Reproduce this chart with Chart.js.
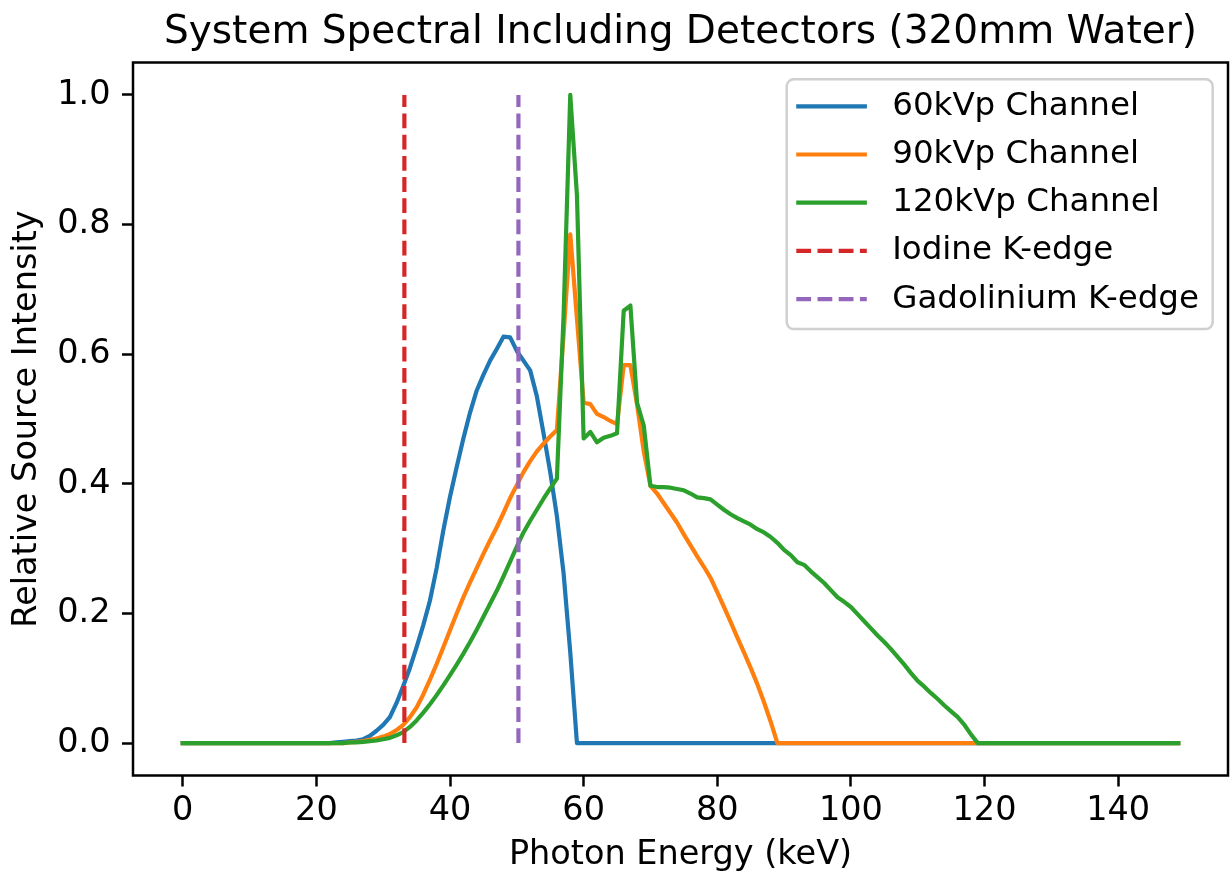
<!DOCTYPE html>
<html><head><meta charset="utf-8">
<script src="https://cdn.jsdelivr.net/npm/chart.js@4.4.0/dist/chart.umd.min.js"></script>
<style>html,body{margin:0;padding:0;background:#fff;overflow:hidden}#wrap{width:1231px;height:878px}canvas{display:block}</style>
</head><body><div id="wrap"><canvas id="c" width="1231" height="878"></canvas></div>
<script>
// ---- data ----
const energyKeV = [0,1,2,3,4,5,6,7,8,9,10,11,12,13,14,15,16,17,18,19,20,21,22,23,24,25,26,27,28,29,30,31,32,33,34,35,36,37,38,39,40,41,42,43,44,45,46,47,48,49,50,51,52,53,54,55,56,57,58,59,60,61,62,63,64,65,66,67,68,69,70,71,72,73,74,75,76,77,78,79,80,81,82,83,84,85,86,87,88,89,90,91,92,93,94,95,96,97,98,99,100,101,102,103,104,105,106,107,108,109,110,111,112,113,114,115,116,117,118,119,120,121,122,123,124,125,126,127,128,129,130,131,132,133,134,135,136,137,138,139,140,141,142,143,144,145,146,147,148,149];
const ch60 = [0,0,0,0,0,0,0,0,0,0,0,0,0,0,0,0,0,0,0,0,0,0,0,0.001,0.002,0.003,0.004,0.006,0.011,0.019,0.028,0.04,0.062,0.088,0.116,0.148,0.182,0.22,0.27,0.328,0.38,0.426,0.47,0.51,0.544,0.568,0.59,0.608,0.627,0.626,0.605,0.59,0.575,0.535,0.478,0.418,0.35,0.262,0.14,0,0,0,0,0,0,0,0,0,0,0,0,0,0,0,0,0,0,0,0,0,0,0,0,0,0,0,0,0,0,0,0,0,0,0,0,0,0,0,0,0,0,0,0,0,0,0,0,0,0,0,0,0,0,0,0,0,0,0,0,0,0,0,0,0,0,0,0,0,0,0,0,0,0,0,0,0,0,0,0,0,0,0,0,0,0,0,0,0,0,0,0,0,0,0,0];
const ch90 = [0,0,0,0,0,0,0,0,0,0,0,0,0,0,0,0,0,0,0,0,0,0,0,0,0,0.001,0.002,0.003,0.005,0.007,0.01,0.014,0.02,0.028,0.04,0.055,0.075,0.098,0.122,0.148,0.174,0.2,0.225,0.248,0.27,0.292,0.313,0.333,0.355,0.378,0.398,0.418,0.435,0.45,0.462,0.473,0.483,0.63,0.785,0.655,0.525,0.523,0.508,0.503,0.497,0.492,0.583,0.583,0.522,0.45,0.397,0.385,0.37,0.355,0.34,0.322,0.305,0.288,0.272,0.255,0.233,0.21,0.187,0.163,0.14,0.116,0.091,0.063,0.033,0,0,0,0,0,0,0,0,0,0,0,0,0,0,0,0,0,0,0,0,0,0,0,0,0,0,0,0,0,0,0,0,0,0,0,0,0,0,0,0,0,0,0,0,0,0,0,0,0,0,0,0,0,0,0,0,0,0,0,0,0,0];
const ch120 = [0,0,0,0,0,0,0,0,0,0,0,0,0,0,0,0,0,0,0,0,0,0,0,0,0,0.001,0.001,0.002,0.003,0.004,0.006,0.008,0.012,0.017,0.025,0.035,0.047,0.06,0.074,0.089,0.105,0.121,0.138,0.156,0.175,0.195,0.215,0.235,0.257,0.28,0.303,0.325,0.343,0.36,0.377,0.393,0.408,0.66,1.0,0.845,0.47,0.48,0.464,0.471,0.474,0.478,0.667,0.675,0.525,0.49,0.397,0.395,0.395,0.394,0.392,0.39,0.385,0.379,0.378,0.376,0.368,0.36,0.353,0.347,0.342,0.337,0.33,0.325,0.318,0.309,0.298,0.29,0.279,0.275,0.265,0.256,0.247,0.236,0.225,0.218,0.21,0.199,0.188,0.177,0.166,0.156,0.145,0.133,0.121,0.108,0.096,0.087,0.077,0.068,0.058,0.049,0.04,0.028,0.013,0,0,0,0,0,0,0,0,0,0,0,0,0,0,0,0,0,0,0,0,0,0,0,0,0,0,0,0,0,0,0,0];
const iodineKEdge = 33.17;
const gadoliniumKEdge = 50.24;
const kEdgeSpan = [0, 1];
const xTicks = [0, 20, 40, 60, 80, 100, 120, 140];
const yTicks = [0.0, 0.2, 0.4, 0.6, 0.8, 1.0];
const seriesLabels = ['60kVp Channel', '90kVp Channel', '120kVp Channel', 'Iodine K-edge', 'Gadolinium K-edge'];
const seriesColors = ['#1f77b4', '#ff7f0e', '#2ca02c', '#d62728', '#9467bd'];
const titleText = 'System Spectral Including Detectors (320mm Water)';
const xTitle = 'Photon Energy (keV)';
const yTitle = 'Relative Source Intensity';

// ---- build chart ----
const FONT = 'DejaVu Sans';
const FS = 33.5;
const pts = (ys) => energyKeV.map((e, i) => ({x: e, y: ys[i]}));
const vline = (xv) => kEdgeSpan.map(v => ({x: xv, y: v}));
const LW = 4.2;
const DASH = [14.8, 6.4];

const solid = (i, data) => ({
  label: seriesLabels[i], data, borderColor: seriesColors[i], backgroundColor: seriesColors[i],
  borderWidth: LW, pointRadius: 0, pointHoverRadius: 0, tension: 0, fill: false,
  borderJoinStyle: 'round', borderCapStyle: 'square', order: 5 - i
});
const dashed = (i, data) => ({
  label: seriesLabels[i], data, borderColor: seriesColors[i], backgroundColor: seriesColors[i],
  borderWidth: LW, pointRadius: 0, pointHoverRadius: 0, tension: 0, fill: false,
  borderDash: DASH, borderCapStyle: 'butt', order: 5 - i
});

const frameAndLegend = {
  id: 'frameAndLegend',
  afterDraw(chart) {
    const ctx = chart.ctx, ca = chart.chartArea;
    ctx.save();
    // axes frame
    ctx.strokeStyle = '#000'; ctx.lineWidth = 2.5;
    ctx.strokeRect(ca.left, ca.top, ca.right - ca.left, ca.bottom - ca.top);
    // legend
    ctx.font = '32.5px "' + FONT + '"';
    const items = chart.data.datasets;
    const boxLeft = ca.right - 441.3;
    const boxRight = ca.right - 15.3;
    const boxTop = ca.top + 16.8;
    const handleStart = boxLeft + 9.6;
    const handleEnd = handleStart + 70.5;
    const textLeft = boxLeft + 105.5;
    const rowH = 48.2;
    const firstRow = boxTop + 27;
    const boxBottom = firstRow + rowH * (items.length - 1) + 30;
    const r = 7;
    ctx.beginPath();
    ctx.moveTo(boxLeft + r, boxTop);
    ctx.arcTo(boxRight, boxTop, boxRight, boxBottom, r);
    ctx.arcTo(boxRight, boxBottom, boxLeft, boxBottom, r);
    ctx.arcTo(boxLeft, boxBottom, boxLeft, boxTop, r);
    ctx.arcTo(boxLeft, boxTop, boxRight, boxTop, r);
    ctx.closePath();
    ctx.fillStyle = 'rgba(255,255,255,0.8)';
    ctx.fill();
    ctx.strokeStyle = '#d0d0d0'; ctx.lineWidth = 2.5;
    ctx.stroke();
    items.forEach((d, i) => {
      const y = firstRow + i * rowH;
      ctx.beginPath();
      ctx.strokeStyle = d.borderColor; ctx.lineWidth = LW;
      ctx.setLineDash(d.borderDash || []);
      ctx.lineCap = d.borderDash ? 'butt' : 'square';
      ctx.moveTo(handleStart + (d.borderDash ? 0 : 2), y);
      ctx.lineTo(handleEnd - (d.borderDash ? 0 : 2), y);
      ctx.stroke();
      ctx.setLineDash([]);
      ctx.fillStyle = '#000'; ctx.textBaseline = 'middle'; ctx.textAlign = 'left';
      ctx.fillText(d.label, textLeft, y);
    });
    ctx.restore();
  }
};

Chart.defaults.color = '#000';
Chart.defaults.font.family = FONT;

new Chart(document.getElementById('c'), {
  type: 'line',
  data: {
    datasets: [
      solid(0, pts(ch60)),
      solid(1, pts(ch90)),
      solid(2, pts(ch120)),
      dashed(3, vline(iodineKEdge)),
      dashed(4, vline(gadoliniumKEdge))
    ]
  },
  options: {
    responsive: false, animation: false, devicePixelRatio: 1,
    events: [],
    layout: { padding: { left: 0, right: 3, top: 0, bottom: 0 } },
    plugins: {
      legend: { display: false },
      tooltip: { enabled: false },
      title: {
        display: true, text: titleText, fullSize: false, color: '#000',
        font: { family: FONT, size: 39, weight: 'normal' },
        padding: { top: 9.6, bottom: 6.1 }
      }
    },
    scales: {
      x: {
        type: 'linear', min: -7.45, max: 156.45,
        afterBuildTicks: (s) => { s.ticks = xTicks.map(v => ({value: v})); },
        afterFit: (s) => { s.height = 102.5; },
        ticks: { font: { family: FONT, size: FS }, color: '#000', padding: 5, maxRotation: 0, autoSkip: false,
                 callback: (v) => String(v) },
        grid: { display: true, drawOnChartArea: false, drawTicks: true, tickLength: 11, tickWidth: 2.5, tickColor: '#000' },
        border: { display: false },
        title: { display: true, text: xTitle, color: '#000', font: { family: FONT, size: FS }, padding: { top: 0, bottom: 3 } }
      },
      y: {
        type: 'linear', min: -0.05, max: 1.05,
        afterBuildTicks: (s) => { s.ticks = yTicks.map(v => ({value: v})); },
        afterFit: (s) => { s.width = 133; },
        ticks: { font: { family: FONT, size: FS }, color: '#000', padding: 11.5, autoSkip: false,
                 callback: (v) => Number(v).toFixed(1) },
        grid: { display: true, drawOnChartArea: false, drawTicks: true, tickLength: 11, tickWidth: 2.5, tickColor: '#000' },
        border: { display: false },
        title: { display: true, text: yTitle, color: '#000', font: { family: FONT, size: FS }, padding: { top: 7, bottom: 0 } }
      }
    }
  },
  plugins: [frameAndLegend]
});
</script>
</body></html>
